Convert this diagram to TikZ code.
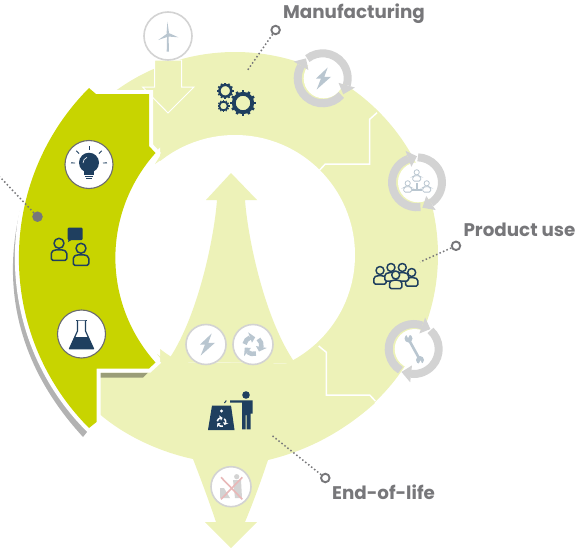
\documentclass[tikz,border=0pt]{standalone}
\usepackage{fontspec}
\setmainfont{Poppins}
\definecolor{palegreen}{HTML}{EDF2B8}
\definecolor{olive}{HTML}{C8D400}
\definecolor{navyicon}{HTML}{1F3F5F}
\definecolor{greytext}{HTML}{77777A}
\definecolor{ringgrey}{HTML}{D3D3D3}
\definecolor{fadeicon}{HTML}{B9C6D0}
\definecolor{crossred}{HTML}{E8B8B8}
\tikzset{
	iconline/.style={line width=1.5pt,line join=round},
	stagelabel/.style={text=greytext,font=\bfseries\fontsize{18.3}{20}\selectfont,inner sep=0pt},
	darkdisc/.style={circle,draw=greytext!90!black,fill=white,line width=1.1pt,minimum size=48pt,inner sep=0pt},
	fadedisc/.style={circle,draw=ringgrey,fill=white,line width=1.6pt,minimum size=#1,inner sep=0pt},
	leaderdot/.style={circle,draw=greytext,fill=white,line width=1.9pt,minimum size=8.5pt,inner sep=0pt},
	leaderline/.style={greytext,line width=1.5pt,dash pattern=on 1.5pt off 2.3pt},
}
%icons, all placed by their centre
\newcommand{\personicon}[4]{
	\begin{scope}[shift={(#1,#2)},scale=#3]
	\draw[#4,rounded corners=1.6pt] (-1.55,3.4) -- (-1.55,1.7) -- (-0.8,1.3) -- (0.8,1.3) -- (1.55,1.7) -- (1.55,3.4) -- cycle;
	\draw[#4] (0,0) circle (1);
	\end{scope}
}
\newcommand{\gearicon}[3]{
	\draw[navyicon,line width=#3*0.3pt] (#1,#2) circle (#3*0.72);
	\foreach \a in {0,30,...,330}
	\draw[navyicon,line width=#3*0.2pt] ($(#1,#2)+(\a:#3*0.8)$) -- ($(#1,#2)+(\a:#3)$);
}
\newcommand{\bolticon}[3]{
	\fill[fadeicon,shift={(#1,#2)},scale=#3] (5.7,-11) -- (-6,0) -- (-1,0) -- (-5.3,11) -- (9,-1.7) -- (2.3,-1.7) -- cycle;
}
\newcommand{\recycleicon}[5]{
	\begin{scope}[shift={(#1,#2)},scale=#3]
	\foreach \a in {0,120,240} {
		\draw[#4,line width=#5] ($(\a-170:8.5)$) arc (\a-170:\a-110:8.5);
		\fill[#4] (\a-110:14) -- (\a-110:3) -- (\a-75:8.5) -- cycle;
	}
	\end{scope}
}
\newcommand{\cyclering}[3]{
	\fill[white] (#1+1,#2) circle (20);
	\begin{scope}[shift={(#1,#2)},rotate=#3]
	\draw[ringgrey,line width=8pt] (-128:25) arc (-128:16:25);
	\draw[ringgrey,line width=8pt] (42:25) arc (42:210:25);
	\fill[ringgrey] (-150:33.5) -- (-150:16.5) -- (-130:26) -- cycle;
	\fill[ringgrey] (16:33.5) -- (16:16.5) -- (38:26) -- cycle;
	\end{scope}
}
\usetikzlibrary{calc}
\begin{document}
\begin{tikzpicture}[x=1pt,y=-1pt]
	\useasboundingbox (0,0) rectangle (587,549);
	%grey edge behind the first stage
	\fill[black!30] (22,203) .. controls (6,262) and (3,350) .. (83,437) -- (87,432) -- (60,250) -- cycle;
	%ring
	\fill[palegreen] (235,255) circle (203);
	\fill[white] (235,255) circle (120);
	\begin{scope}
	\clip (0,100) rectangle (160,420);
	\fill[white] (273,258) circle (158);
	\end{scope}
	%bottom stage and the way out
	\fill[palegreen] (99.5,378) -- (99.5,414) .. controls (125,436) and (160,452) .. (193,459)
		.. controls (205,490) and (212,510) .. (216,522) -- (205,522) -- (231,548) -- (257,522) -- (245,522)
		.. controls (250,510) and (258,490) .. (268,460) .. controls (310,450) and (345,430) .. (375,403)
		-- (326,352) -- (318.7,346) -- (295,363.5) -- (167,362) -- (157,354) -- (162,360) -- (143,378) -- cycle;
	%arrow through the middle
	\fill[palegreen] (231,173) -- (257,200) -- (245,200) .. controls (248,240) and (265,320) .. (295,363)
		-- (167,362) .. controls (197,320) and (214,240) .. (217,200) -- (206,200) -- cycle;
	%arrow coming in at the top
	\draw[white,fill=palegreen,line width=1pt] (154.5,60) -- (154.5,87) -- (142.5,87) -- (168,113) -- (194,87)
		-- (181.5,87) -- (181.5,60) -- cycle;
	%lines between the stages
	\draw[white,line width=1.5pt] (319.7,170) -- (325.3,164) -- (369.7,164) -- (369.7,119.3) -- (377,112.7);
	\draw[white,line width=1.5pt] (318.7,346) -- (326.3,352.3) -- (326.3,395) -- (369.7,395) -- (375.3,401);
	%first stage
	\fill[black!35!palegreen] (99.5,372.5) -- (148,372.5) -- (143,377.5) -- (99.5,377.5) -- cycle;
	\fill[olive,preaction={draw=white,line width=8pt,line join=miter}] (89,88) -- (96,94) -- (149,94) -- (149,146) -- (155.5,153)
		.. controls (102,213) and (102,302.5) .. (155.5,362.5) -- (149,368.5) -- (96.5,368.5) -- (96.5,422) -- (89,428)
		.. controls (-4.5,334) and (-4.5,182) .. (89,88) -- cycle;
	\fill[palegreen] (155,164) -- (161,154.5) -- (165,157) -- cycle;
	%turbine
	\node[fadedisc=48pt] (winddisc) at (168,36) {};
	\fill[fadeicon] (166.7,51.7) -- (167.1,35) -- (168.5,35) -- (169,51.7) -- cycle;
	\fill[fadeicon] (167.8,35.5) -- (166.6,33) -- (167.4,21.7) -- (169,33) -- cycle;
	\fill[fadeicon] (167.8,34) -- (169.5,33.3) -- (178.3,37.3) -- (168,36.5) -- cycle;
	\fill[fadeicon] (168.5,34.5) -- (168.5,36.5) -- (158.3,40) -- (166.8,33.8) -- cycle;
	%gears
	\gearicon{243}{103}{12.8}
	\gearicon{225.3}{90.8}{8.2}
	\gearicon{223.5}{106}{6}
	%cycles
	\cyclering{322.7}{78.3}{0}
	\bolticon{322}{78.5}{1}
	\cyclering{417}{182.3}{-40}
	\personicon{416.7}{172.3}{2.6}{fadeicon,fill=white,line width=0.8pt}
	\personicon{407.7}{183.3}{2.6}{fadeicon,fill=white,line width=0.8pt}
	\personicon{426.7}{183.3}{2.6}{fadeicon,fill=white,line width=0.8pt}
	\fill[fadeicon] (415.7,183) rectangle (417.7,188.5);
	\fill[fadeicon] (412,188.5) rectangle (421.5,191);
	\cyclering{413.7}{349}{-80}
	\draw[fadeicon,line width=2.6pt] (409,340) -- (419.5,359);
	\fill[fadeicon] (408.5,338.5) circle (4);
	\fill[fadeicon] (420,360) circle (4);
	\fill[white] (408,338) -- (405.5,333) -- (410.5,333.5) -- cycle;
	\fill[white] (420.5,360.5) -- (423,365.5) -- (418,365) -- cycle;
	%crowd
	\personicon{380}{270.5}{4}{navyicon,fill=palegreen,iconline}
	\personicon{411.7}{272.5}{4}{navyicon,fill=palegreen,iconline}
	\personicon{391}{267.5}{4}{navyicon,fill=palegreen,iconline}
	\personicon{402.3}{267.5}{4}{navyicon,fill=palegreen,iconline}
	\personicon{395.7}{275}{4}{navyicon,fill=palegreen,iconline}
	%bulb
	\node[darkdisc] (bulbdisc) at (89,164.5) {};
	\fill[navyicon] (89,162.7) circle (10);
	\fill[navyicon] (84,170) rectangle (94,175);
	\draw[navyicon,line width=1pt] (85,176) -- (93,176);
	\draw[navyicon,line width=1pt] (86,178) -- (92,178);
	\draw[white,line width=0.6pt] (83,163) arc (180:250:6);
	\foreach \a in {-90,-45,-135,-2,-178}
	\draw[navyicon,line width=0.9pt] ($(89,163.5)+(\a:14)$) -- ($(89,163.5)+(\a:18)$);
	%flask
	\node[darkdisc] (flaskdisc) at (81.5,334) {};
	\draw[navyicon,line width=1.2pt,line join=round] (76,320.7) -- (87,320.7);
	\draw[navyicon,fill=white,line width=1.2pt,line join=round] (77.5,320.7) -- (77.5,331) -- (69.5,348.7) -- (93.5,348.7) -- (85.5,331) -- (85.5,320.7);
	\fill[navyicon] (74.5,337) -- (88.5,337) -- (93.5,348.7) -- (69.5,348.7) -- cycle;
	%discussion
	\personicon{59}{243.3}{5}{navyicon,iconline}
	\personicon{81}{248.3}{5}{navyicon,iconline}
	\fill[navyicon,rounded corners=1pt] (67.7,227.7) rectangle (82.7,240);
	\fill[navyicon] (69,238) -- (68,242) -- (73,239) -- cycle;
	%end of life
	\node[fadedisc=40pt] (powerdisc) at (206,344.5) {};
	\bolticon{206}{344.5}{1}
	\node[fadedisc=40pt] (recycledisc) at (253,344.5) {};
	\recycleicon{253}{345.5}{1}{fadeicon}{4.5pt}
	\fill[navyicon] (212,405.5) -- (231,405.5) -- (234.5,430) -- (208,430) -- cycle;
	\fill[white] (221.5,411) circle (1.7);
	\recycleicon{221.5}{422}{0.5}{white}{1.5pt}
	\draw[navyicon,line width=1pt] (224.5,403) -- (226.3,400.5);
	\fill[navyicon] (246,395) circle (3.8);
	\fill[navyicon] (230,400.3) -- (252.5,400.3) -- (252.5,413.5) -- (250.5,413.5) -- (250.5,429.3) -- (246.5,429.3)
		-- (246.5,415) -- (245.5,415) -- (245.5,429.3) -- (242,429.3) -- (242,402.5) -- (230,402.5) -- cycle;
	\node[fadedisc=40pt] (dumpdisc) at (231,486.7) {};
	\fill[ringgrey] (236.7,476.7) circle (2.6);
	\fill[ringgrey] (233,480) -- (241,480) -- (242,498) -- (235,498) -- cycle;
	\fill[ringgrey] (220,488) -- (224,488) -- (230,498) -- (220,498) -- cycle;
	\draw[crossred,line width=1.6pt] (221,477.3) -- (242.3,499.3);
	\draw[crossred,line width=1.6pt] (242.3,477.3) -- (221,499.3);
	%labels
	\node[stagelabel] (manuflabel) at (354,14) {Manufacturing};
	\node[stagelabel] (uselabel) at (519.5,230) {Product use};
	\node[stagelabel] (eollabel) at (383.5,492) {End-of-life};
	\node[leaderdot] (manufdot) at (275.6,30) {};
	\coordinate (manufend) at (247,71);
	\draw[leaderline] (manufdot) -- (manufend);
	\node[leaderdot] (usedot) at (456,245.8) {};
	\coordinate (useend) at (420,262);
	\draw[leaderline] (usedot) -- (useend);
	\node[leaderdot] (eoldot) at (325.3,478) {};
	\coordinate (eolend) at (272,435.5);
	\draw[leaderline] (eoldot) -- (eolend);
	\node[leaderdot,fill=greytext] (designdot) at (37.5,216.7) {};
	\coordinate (designend) at (0,177);
	\draw[leaderline] (designdot) -- (designend);
\end{tikzpicture}
\end{document}
